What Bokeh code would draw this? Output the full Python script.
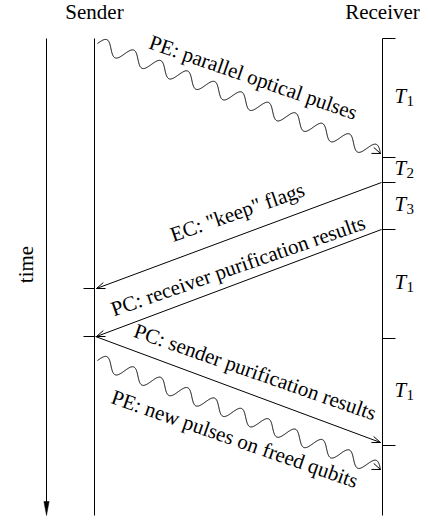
import numpy as np
from bokeh.plotting import figure
from bokeh.models import Range1d
from bokeh.core.properties import value
from bokeh.embed import file_html
from bokeh.resources import INLINE

# ---------------- data ----------------
parties = ["Sender", "Receiver"]
party_x = [94, 382]
time_top = 38
time_bottom = 515
time_label = "time"

receiver_ticks = [38, 157, 182, 229, 338, 445]
period_symbol = ["T", "T", "T", "T", "T"]
period_index = ["1", "2", "3", "1", "1"]
sender_ticks = [288, 336]

msg_labels = [
    "PE: parallel optical pulses",
    'EC: "keep" flags',
    "PC: receiver purification results",
    "PC: sender purification results",
    "PE: new pulses on freed qubits",
]
msg_src = ["Sender", "Receiver", "Receiver", "Sender", "Sender"]
msg_t0 = [43, 182, 229, 336, 360]
msg_t1 = [153, 288, 336, 442, 469]
msg_wavy = [True, False, False, False, True]
wave_cycles = [10.5, 0, 0, 0, 10.5]

# ---------------- layout / style ----------------
label_dx = [12, 0.6, 1.3, 14.8, -6.5]
label_dy = [-14.5, -16.7, -10.5, -11, 30.5]
TEXT_TILT = np.radians(19.2)
FONT = value("Liberation Serif")
FS = "21px"
WAVE_AMP = 7.0
HEAD_LEN, HEAD_HALF = 8.5, 3.2
BASE_FIX = 7.0   # renderer places the alphabetic baseline this much low


def fix(x, y, a):
    """shift an anchor 'up' in the text's own frame (screen y grows downward)"""
    return x - BASE_FIX * np.sin(a), y - BASE_FIX * np.cos(a)


# page pixel == data unit
p = figure(width=428, height=520, x_range=Range1d(0, 428), y_range=Range1d(520, 0),
           x_axis_type=None, y_axis_type=None, toolbar_location=None,
           output_backend="svg", min_border=0, outline_line_color=None)
p.grid.visible = False

px = dict(zip(parties, party_x))
sx, rx = px["Sender"], px["Receiver"]

# party lines
p.segment(x0=party_x, y0=[time_top] * 2, x1=party_x, y1=[time_bottom] * 2,
          line_color="black", line_width=1)
# party headings
hx, hy = zip(*[fix(x, 18, 0.0) for x in party_x])
p.text(x=list(hx), y=list(hy), text=parties, text_font=FONT, text_font_size=FS,
       text_align="center", text_baseline="alphabetic", text_color="black")

# time arrow
tx = 46
p.segment(x0=[tx], y0=[time_top], x1=[tx], y1=[time_bottom - 12], line_color="black", line_width=1)
p.patch(x=[tx - 2.6, tx + 2.6, tx], y=[time_bottom - 14, time_bottom - 14, time_bottom],
        fill_color="black", line_color="black", line_width=0.5)
tlx, tly = fix(32, 264, np.pi / 2)
p.text(x=[tlx], y=[tly], text=[time_label], angle=[np.pi / 2], text_font=FONT,
       text_font_size=FS, text_align="center", text_baseline="alphabetic", text_color="black")

# receiver ticks
p.segment(x0=[rx] * len(receiver_ticks), y0=receiver_ticks, x1=[rx + 13] * len(receiver_ticks),
          y1=receiver_ticks, line_color="black", line_width=1)
# sender ticks
p.segment(x0=[sx - 11] * len(sender_ticks), y0=sender_ticks, x1=[sx] * len(sender_ticks),
          y1=sender_ticks, line_color="black", line_width=1)

# period labels
mids = [(a + b) / 2 for a, b in zip(receiver_ticks[:-1], receiver_ticks[1:])]
p.text(x=[394] * len(mids), y=[m + 5 - BASE_FIX for m in mids], text=period_symbol, text_font=FONT,
       text_font_size="21px", text_font_style="italic", text_align="left",
       text_baseline="alphabetic", text_color="black")
p.text(x=[406] * len(mids), y=[m + 8 - BASE_FIX * 0.72 for m in mids], text=period_index,
       text_font=FONT, text_font_size="15px", text_align="left", text_baseline="alphabetic",
       text_color="black")

# messages
head_xs, head_ys = [], []
lab_x, lab_y, lab_a = [], [], []
for i, lab in enumerate(msg_labels):
    src = msg_src[i]
    dst = "Receiver" if src == "Sender" else "Sender"
    sgn = 1 if src == "Sender" else -1
    gap0 = 3 if msg_wavy[i] else 1
    x0 = px[src] + sgn * gap0
    x1 = px[dst] - sgn * 2
    y0, y1 = msg_t0[i], msg_t1[i]
    dx, dy = x1 - x0, y1 - y0
    L = np.hypot(dx, dy)
    ux, uy = dx / L, dy / L
    # perpendicular pointing "up" on screen (y grows downward)
    nx, ny = (uy, -ux) if ux > 0 else (-uy, ux)
    if msg_wavy[i]:
        t = np.linspace(0, 1, 900)
        w = WAVE_AMP * np.sin(2 * np.pi * wave_cycles[i] * t)
        xs = x0 + t * dx + w * nx
        ys = y0 + t * dy + w * ny
        p.line(x=xs, y=ys, line_color="black", line_width=1)
    else:
        p.line(x=[x0, x1], y=[y0, y1], line_color="black", line_width=1)
    # open arrowhead
    bx, by = x1 - HEAD_LEN * ux, y1 - HEAD_LEN * uy
    qx, qy = -uy, ux
    head_xs.append([bx + HEAD_HALF * qx, x1, bx - HEAD_HALF * qx])
    head_ys.append([by + HEAD_HALF * qy, y1, by - HEAD_HALF * qy])
    a = -TEXT_TILT if ux > 0 else TEXT_TILT
    lx, ly = fix((x0 + x1) / 2 + label_dx[i], (y0 + y1) / 2 + label_dy[i], a)
    lab_x.append(lx)
    lab_y.append(ly)
    lab_a.append(a)

p.multi_line(xs=head_xs, ys=head_ys, line_color="black", line_width=1)
p.text(x=lab_x, y=lab_y, text=msg_labels, angle=lab_a, text_font=FONT, text_font_size=FS,
       text_align="center", text_baseline="alphabetic", text_color="black")

open("out.html", "w").write(file_html(p, INLINE))
